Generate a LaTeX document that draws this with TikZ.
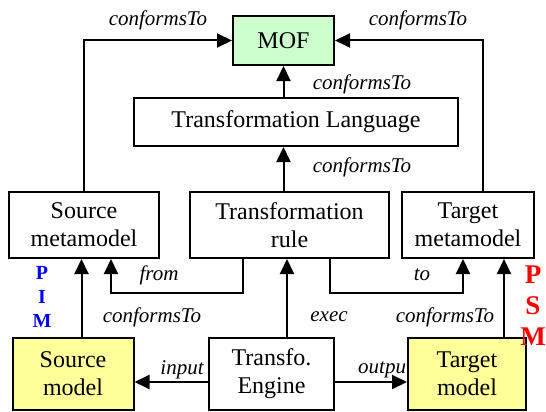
\documentclass[tikz,border=0pt]{standalone}
\usepackage{fontspec}
\setmainfont{Liberation Serif}
\usepackage{tikz}
\usetikzlibrary{arrows.meta,calc,backgrounds}
\definecolor{mofgreen}{HTML}{CCFFCC}
\definecolor{modelyellow}{HTML}{FFFF99}
\tikzstyle{box}=[rectangle, draw, line width=2pt, align=center, inner sep=0pt, font=\fontsize{24}{28}\selectfont]
\tikzstyle{lbl}=[inner sep=0pt, font=\fontsize{21}{24}\selectfont\itshape]

\begin{document}
\begin{tikzpicture}[x=1pt,y=-1pt,arr/.style={line width=2pt,-{Triangle[length=15pt,width=14pt]}},
  level/.style={inner sep=0pt,align=center,font=\bfseries}]
\useasboundingbox (0,0) rectangle (546,412);
% metamodel level
\node (mof) at (283.5,40.5) [box, fill=mofgreen, minimum width=101pt, minimum height=49pt] {MOF};
\node (tl) at (296,122) [box, minimum width=324pt, minimum height=48pt] {Transformation Language};
\node (sm) at (84,225) [box, minimum width=150pt, minimum height=66pt] {Source\\metamodel};
\node (tr) at (289.5,225) [box, minimum width=199pt, minimum height=66pt] {Transformation\\rule};
\node (tm) at (468,225) [box, minimum width=132pt, minimum height=66pt] {Target\\metamodel};
% model level
\node (srcm) at (73,374) [box, fill=modelyellow, minimum width=121pt, minimum height=72pt] {Source\\model};
\node (eng) at (271.5,374) [box, minimum width=125pt, minimum height=72pt] {Transfo.\\Engine};
\node (tgtm) at (467,374) [box, fill=modelyellow, minimum width=118pt, minimum height=72pt] {Target\\model};
\node (pim) at (42,297) [level, text=blue, font=\fontsize{20}{24}\selectfont\bfseries] {P\\I\\M};
\node (psm) at (533,306) [level, text=red, font=\fontsize{27}{31}\selectfont\bfseries] {P\\S\\M};

\draw[arr] (mof.south |- tl.north) -- (mof.south);
\draw[arr] (tr.north -| mof.south) -- (tl.south -| mof.south);
\draw[arr] (sm.north) |- (mof.west);
\draw[arr] ([xshift=15pt]tm.north) |- (mof.east);
\draw[arr] ([xshift=15.5pt]eng.north) -- ([xshift=15.5pt]eng.north |- tr.south);
\draw[arr] ([xshift=8.5pt]srcm.north) -- ([xshift=8.5pt]srcm.north |- sm.south);
\draw[arr] ([xshift=37pt]tgtm.north) -- ([xshift=37pt]tgtm.north |- tm.south);
\draw[arr] ([xshift=-46.5pt]tr.south) -- ++(0,34) -| ([xshift=27pt]sm.south);
\draw[arr] ([xshift=40.5pt]tr.south) -- ++(0,34) -| ([xshift=-5pt]tm.south);
\draw[arr] ([yshift=-8pt]eng.west) -- ([yshift=-8pt]srcm.east);
\draw[arr] ([yshift=-8pt]eng.east) -- ([yshift=-8pt]tgtm.west);

% labels
\node (c1) at (158,20) [lbl] {conformsTo};
\node (c2) at (418,20) [lbl] {conformsTo};
\node (c3) at (362,84) [lbl] {conformsTo};
\node (c4) at (362,167) [lbl] {conformsTo};
\node (from) at (159,275) [lbl] {from};
\node (to) at (422,275) [lbl] {to};
\node (c5) at (152,317) [lbl] {conformsTo};
\node (exec) at (329,317) [lbl] {exec};
\node (c6) at (445,317) [lbl] {conformsTo};
\node (input) at (182,370) [lbl] {input};
\begin{scope}[on background layer]
\node (output) at (385,370) [lbl] {output};
\end{scope}
\end{tikzpicture}
\end{document}
